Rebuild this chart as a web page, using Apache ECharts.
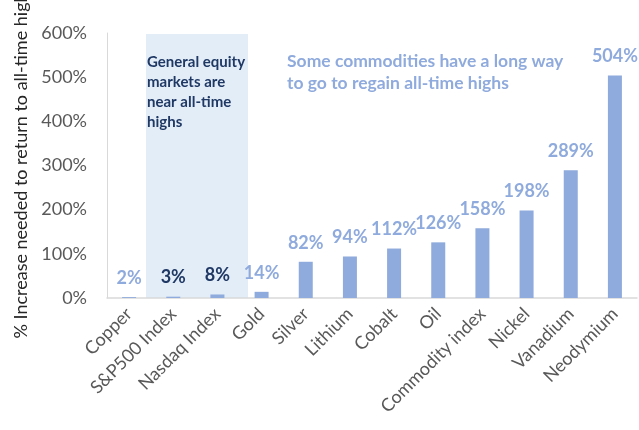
<!DOCTYPE html>
<html>
<head>
<meta charset="utf-8">
<script src="https://cdn.jsdelivr.net/npm/echarts@6/dist/echarts.min.js"></script>
<style>html,body{margin:0;padding:0;background:#fff;}#c{width:639px;height:430px;}</style>
</head>
<body>
<div id="c"></div>
<script>
var categories = ['Copper','S&P500 Index','Nasdaq Index','Gold','Silver','Lithium','Cobalt','Oil','Commodity index','Nickel','Vanadium','Neodymium'];
var values = [2, 3, 8, 14, 82, 94, 112, 126, 158, 198, 289, 504];
var equityCategories = ['S&P500 Index','Nasdaq Index'];
var yTicks = [0, 100, 200, 300, 400, 500, 600];
var yAxisTitle = '% Increase needed to return to all-time high';
var noteEquity = 'General equity\nmarkets are\nnear all-time\nhighs';
var noteCommod = 'Some commodities have a long way\nto go to regain all-time highs';

var FONT = 'Lato, "Open Sans", sans-serif';
var chart = echarts.init(document.getElementById('c'), null, {renderer:'canvas'});
chart.setOption({
  animation: false,
  backgroundColor: '#ffffff',
  grid: {left: 107, right: 2, top: 33, bottom: 132, containLabel: false, outerBoundsMode: 'none'},
  xAxis: {
    type: 'category',
    data: categories,
    axisLine: {show: true, lineStyle: {color: '#d9d9d9', width: 1.5}},
    axisTick: {show: false},
    axisLabel: {interval: 0, rotate: 45, fontSize: 18, color: '#595959', fontFamily: FONT, margin: 13}
  },
  yAxis: {
    type: 'value',
    min: yTicks[0], max: yTicks[yTicks.length-1], interval: 100,
    name: yAxisTitle,
    nameLocation: 'middle',
    nameGap: 76,
    nameTextStyle: {fontSize: 18, color: '#262626', fontFamily: FONT},
    axisLine: {show: true, lineStyle: {color: '#d9d9d9', width: 1}},
    axisTick: {show: false},
    splitLine: {show: false},
    axisLabel: {fontSize: 18, color: '#595959', fontFamily: FONT, margin: 20, formatter: function(v){return v + '%';}}
  },
  graphic: [
    {type: 'rect', z: 0, shape: {x: 146, y: 34, width: 102, height: 264}, style: {fill: '#e3edf8'}},
    {type: 'text', z: 10, left: 147, top: 52, style: {text: noteEquity, fill: '#1f3864', font: 'bold 15px ' + FONT, lineHeight: 20}},
    {type: 'text', z: 10, left: 287, top: 50, style: {text: noteCommod, fill: '#8faadc', font: 'bold 17.5px ' + FONT, lineHeight: 22}}
  ],
  series: [{
    type: 'bar',
    data: values,
    barWidth: 14,
    z: 3,
    itemStyle: {color: '#8faadc'},
    label: {
      show: true,
      position: 'top',
      distance: 10,
      fontFamily: FONT,
      formatter: function(p){
        var key = equityCategories.indexOf(p.name) >= 0 ? 'd' : 'l';
        return '{' + key + '|' + p.value + '%}';
      },
      rich: {
        d: {color: '#1f3864', fontSize: 18, fontWeight: 'bold', fontFamily: FONT},
        l: {color: '#8faadc', fontSize: 18, fontWeight: 'bold', fontFamily: FONT}
      }
    }
  }]
});
</script>
</body>
</html>
